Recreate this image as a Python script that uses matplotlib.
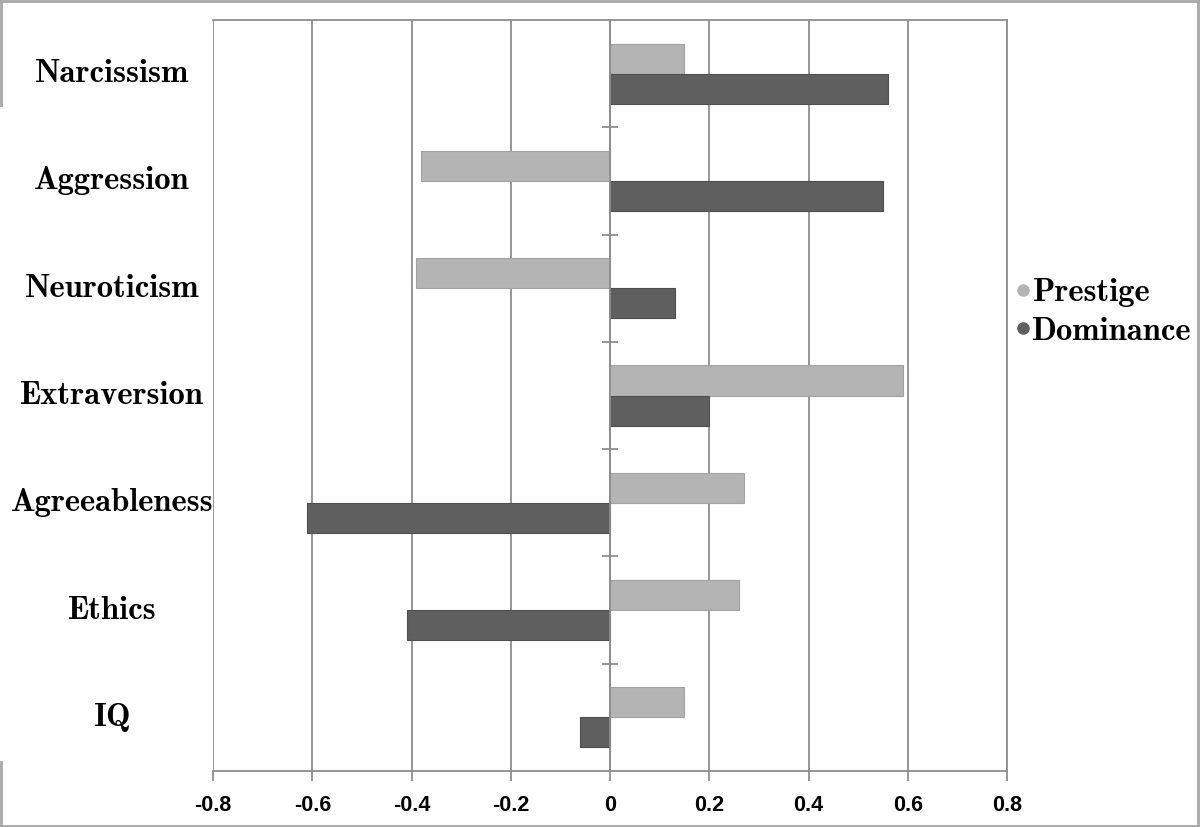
import numpy as np
import matplotlib
matplotlib.use('Agg')
import matplotlib.pyplot as plt
from matplotlib.lines import Line2D
from matplotlib.transforms import blended_transform_factory

## data
categories = ['Narcissism', 'Aggression', 'Neuroticism', 'Extraversion',
              'Agreeableness', 'Ethics', 'IQ']
prestige = [0.15, -0.38, -0.39, 0.59, 0.27, 0.26, 0.15]
dominance = [0.56, 0.55, 0.13, 0.20, -0.61, -0.41, -0.06]
xticks = [-0.8, -0.6, -0.4, -0.2, 0, 0.2, 0.4, 0.6, 0.8]
xticklabels = ['-0.8', '-0.6', '-0.4', '-0.2', '0', '0.2', '0.4', '0.6', '0.8']

c_pre = '#b4b4b4'
c_dom = '#5f5f5f'
grid_c = '#8e8e8e'
serif = 'cmb10'

fig = plt.figure(figsize=(12, 8.27), dpi=100)
ax = fig.add_axes([213/1200, 1 - 771/827, (1007-213)/1200, (771-20)/827])

y = np.arange(len(categories))
h = 0.28
ax.barh(y - h/2, prestige, height=h, color=c_pre, edgecolor='#a2a2a2', linewidth=0.8, zorder=2)
ax.barh(y + h/2, dominance, height=h, color=c_dom, edgecolor='#4e4e4e', linewidth=0.8, zorder=2)

ax.set_xlim(-0.8, 0.8)
ax.set_ylim(len(categories) - 0.5, -0.5)

# vertical gridlines
ax.set_xticks(xticks)
ax.set_xticklabels(xticklabels, fontfamily='Liberation Sans', fontweight='bold', fontsize=15.5)
ax.grid(axis='x', color=grid_c, linewidth=1.3, zorder=0)
ax.set_axisbelow(True)
ax.tick_params(axis='x', direction='out', length=7, width=1.3, color=grid_c, pad=10)

# category axis sits at zero
ax.spines['left'].set_position(('data', 0))
for s in ['left', 'top', 'right', 'bottom']:
    ax.spines[s].set_color(grid_c)
    ax.spines[s].set_linewidth(1.3)
ax.spines['left'].set_zorder(3)
ax.set_yticks(y)
ax.set_yticklabels([])
ax.tick_params(axis='y', which='major', length=0)
ax.set_yticks(np.arange(len(categories) - 1) + 0.5, minor=True)
ax.tick_params(axis='y', which='minor', direction='inout', length=12, width=1.3, color=grid_c)

# category labels on the left
trans = blended_transform_factory(fig.transFigure, ax.transData)
for i, name in enumerate(categories):
    ax.text(112/1200, i, name, transform=trans, ha='center', va='center',
            fontfamily=serif, fontsize=23.5)

# legend
handles = [Line2D([], [], marker='o', linestyle='none', color=c_pre, markersize=8),
           Line2D([], [], marker='o', linestyle='none', color=c_dom, markersize=8)]
leg = fig.legend(handles, ['Prestige', 'Dominance'], loc='center left',
                 bbox_to_anchor=(1003/1200, 1 - 312/827), frameon=False,
                 prop={'family': serif, 'size': 23.5}, handlelength=0.4,
                 handletextpad=0.1, labelspacing=0.3, borderaxespad=0)

# outer frame of the picture
frame_c = '#a8a8a8'
segs = [((0, 1), (1 - 1/827, 1 - 1/827)),
        ((0, 1), (1/827, 1/827)),
        ((1 - 2/1200, 1 - 2/1200), (0, 1)),
        ((1/1200, 1/1200), (1, 1 - 105/827)),
        ((1/1200, 1/1200), (0, 1 - 762/827))]
for xs, ys in segs:
    fig.add_artist(Line2D(xs, ys, transform=fig.transFigure, color=frame_c, linewidth=2))

fig.savefig('out.png', dpi=100)
